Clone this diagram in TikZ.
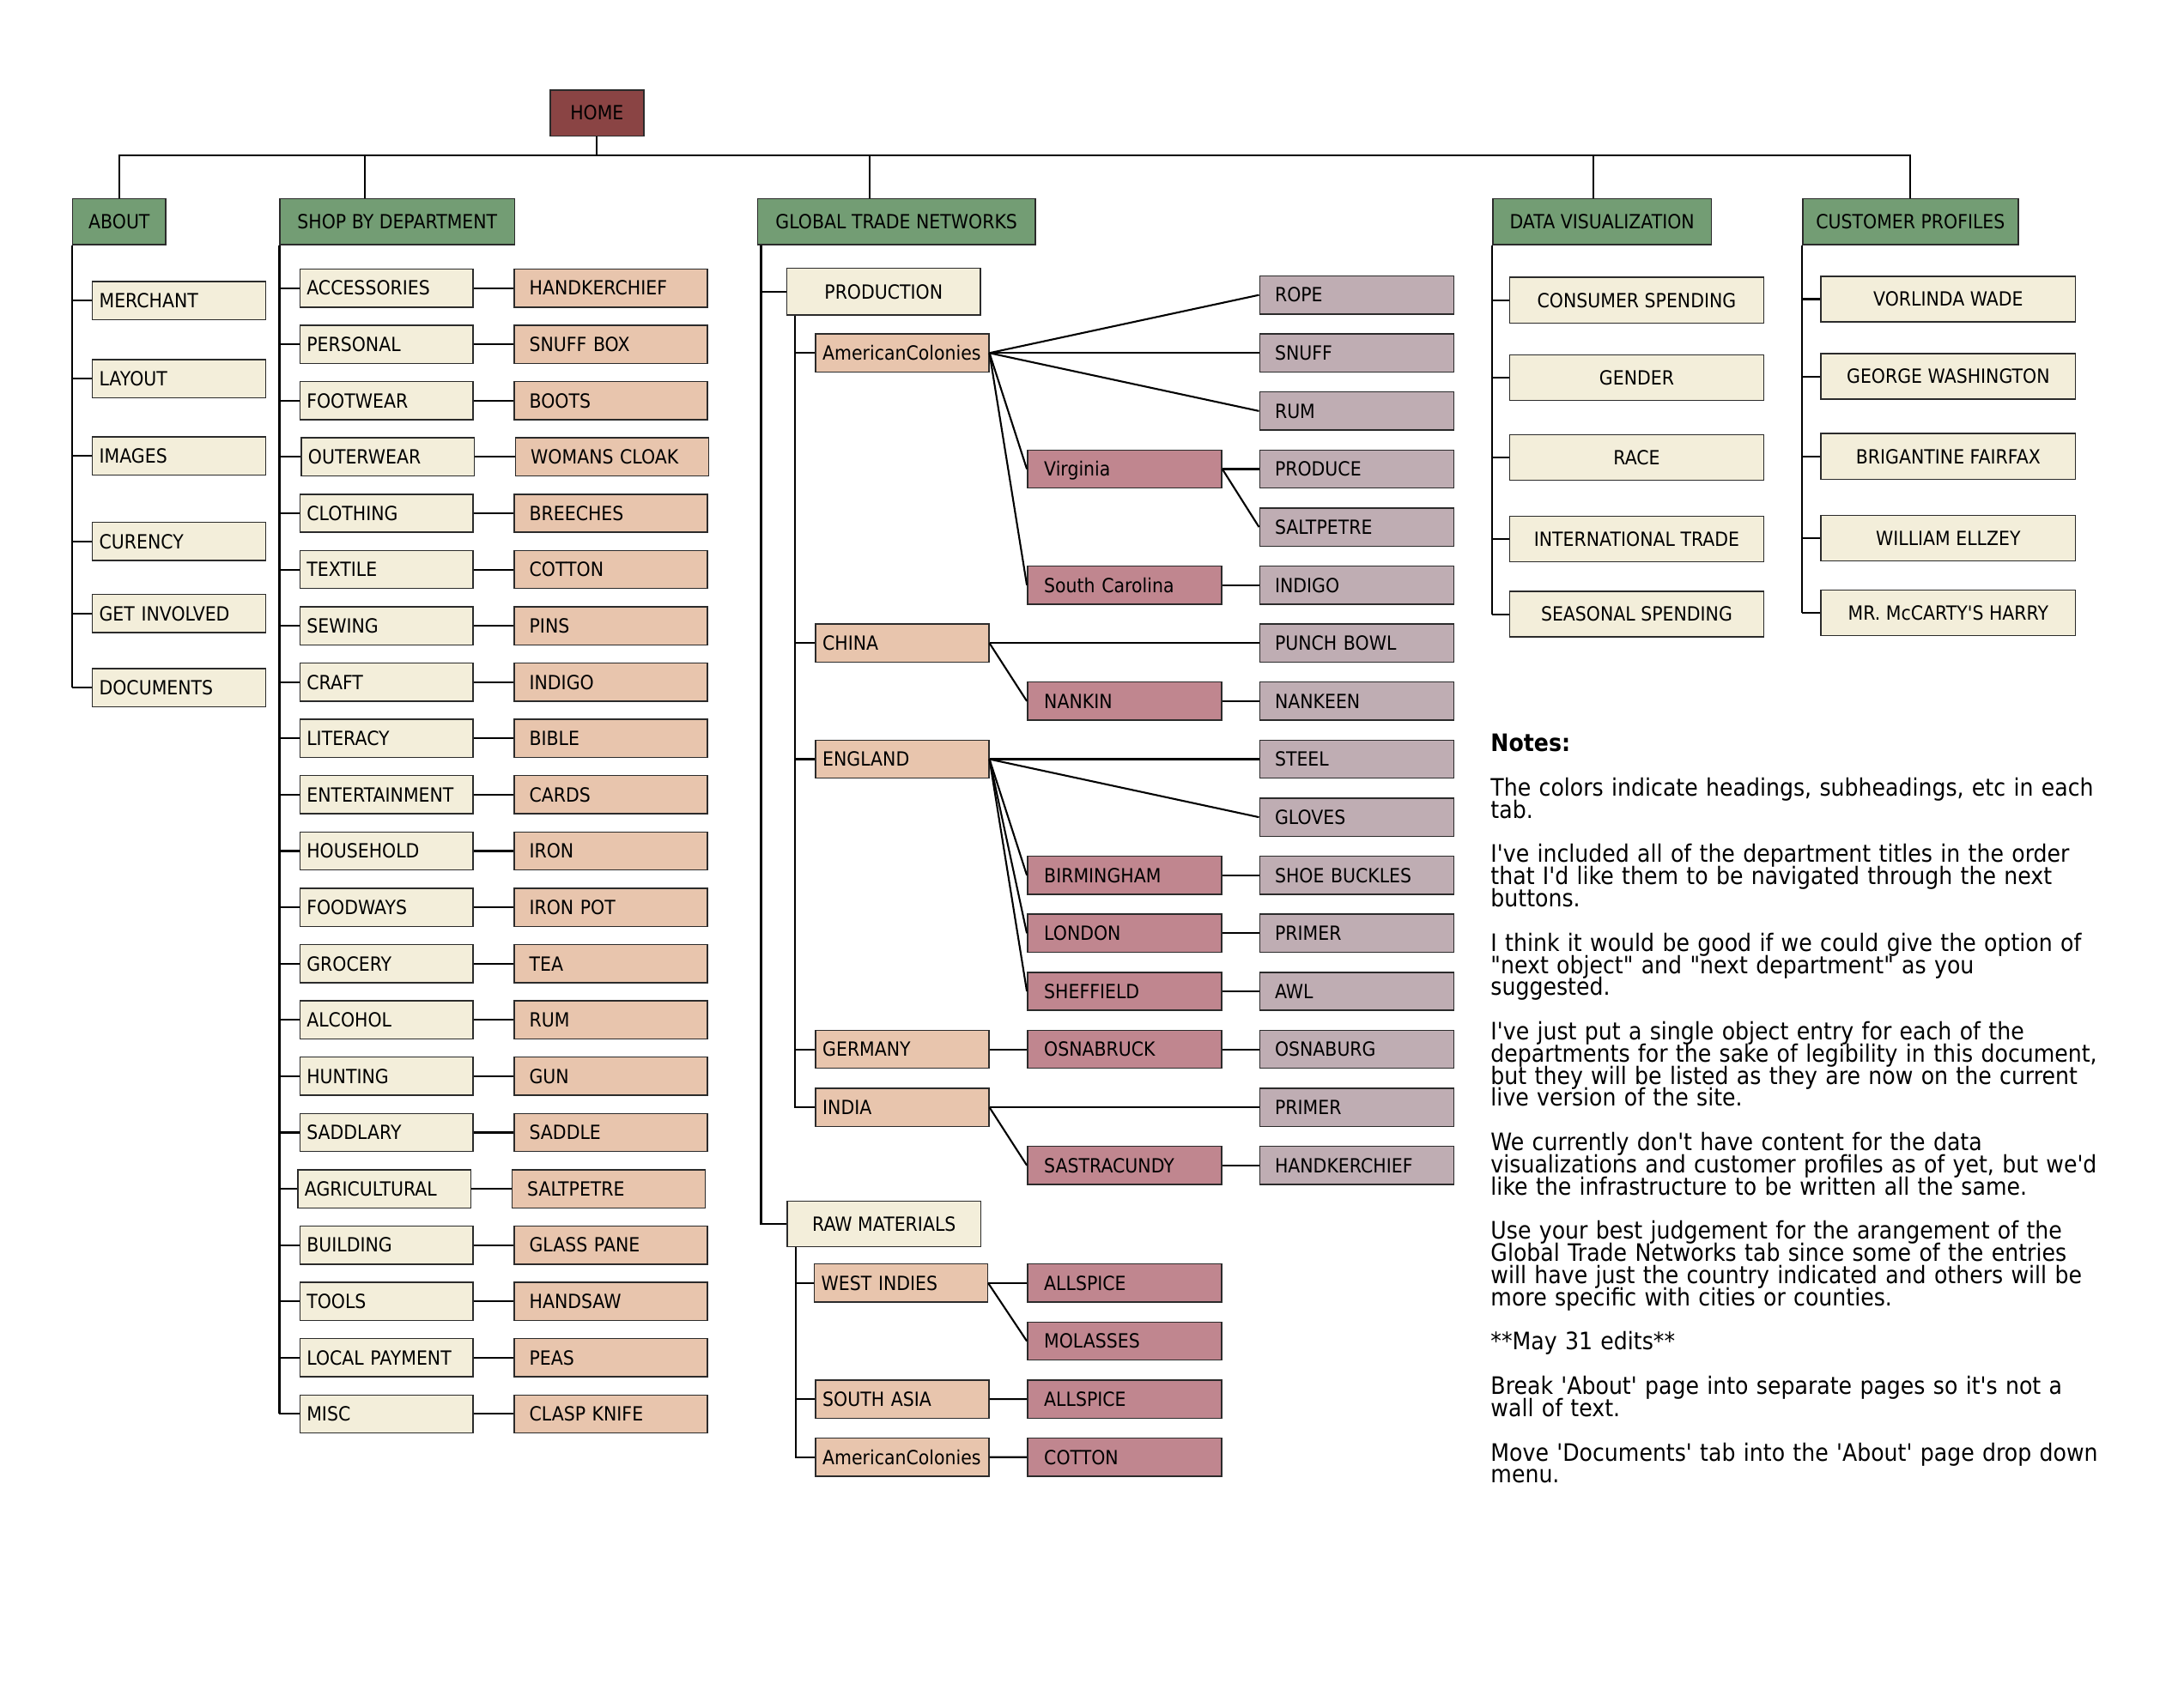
\documentclass[tikz,border=0pt]{standalone}
\usepackage{fontspec}
\newfontfamily\bxfont[FakeStretch=0.9]{DejaVu Sans}
\newfontfamily\ntfont[FakeStretch=0.9]{DejaVu Sans}
\definecolor{homec}{HTML}{8A4444}
\definecolor{greenc}{HTML}{739D74}
\definecolor{creamc}{HTML}{F3EEDA}
\definecolor{peachc}{HTML}{E8C5AD}
\definecolor{pinkc}{HTML}{C0868F}
\definecolor{mauvec}{HTML}{BFADB3}
\definecolor{bordc}{HTML}{2B2B2B}
\newcommand\boxf{\bxfont\fontsize{14.1}{16}\selectfont\hyphenpenalty=10000 }
\newcommand\notef{\ntfont\fontsize{17.35}{16}\selectfont\lineskiplimit=-50pt \hyphenpenalty=10000 }
\begin{document}
\begin{tikzpicture}[x=1pt,y=-1pt,
 conn/.style={line width=1.3pt, black},
 bxbase/.style={draw=bordc, line width=0.9pt, anchor=west, inner ysep=0pt, text height=10.3pt, text depth=0pt, font=\boxf},
 lbox/.style={bxbase, align=left, minimum height=27.5pt},
 creamL/.style={lbox, fill=creamc, inner xsep=5pt, text width=115pt},
 peachL/.style={lbox, fill=peachc, inner xsep=5pt, text width=115pt},
 peachS/.style={lbox, fill=peachc, inner xsep=11pt, text width=117.5pt},
 pinkb/.style={lbox, fill=pinkc, inner xsep=12pt, text width=116.2pt},
 mauveb/.style={lbox, fill=mauvec, inner xsep=11pt, text width=118.2pt},
 headb/.style={bxbase, fill=greenc, minimum height=33pt, inner xsep=0pt},
 centb/.style={bxbase, fill=creamc, minimum height=33pt, inner xsep=0pt},
 notes/.style={anchor=north west, inner sep=0pt, text width=470pt, align=left, font=\notef}
]
\useasboundingbox[fill=white] (0,0) rectangle (1568,1233);

% top level
\node[headb, fill=homec, minimum width=67.6pt] (home) at (396.7,81.6) {HOME};
\node[headb, minimum width=67.2pt] (about) at (52,160.1) {ABOUT};
\node[headb, minimum width=169.4pt] (shop) at (201.7,160.1) {SHOP BY DEPARTMENT};
\node[headb, minimum width=200.6pt] (gtn) at (546.4,160.1) {GLOBAL TRADE NETWORKS};
\node[headb, minimum width=157.8pt] (dv) at (1077.2,160.1) {DATA VISUALIZATION};
\node[headb, minimum width=155.5pt] (cp) at (1301,160.1) {CUSTOMER PROFILES};

\coordinate (busy) at (0,112.2);
\coordinate (ds) at (263.6,112.2);
\coordinate (dg) at (628,112.2);
\coordinate (dd) at (1150.4,112.2);
\draw[conn] (home.south) -- (home.south |- busy);
\draw[conn] (about.north) |- (cp.north |- busy) -- (cp.north);
\draw[conn] (ds) -- (ds |- shop.north);
\draw[conn] (dg) -- (dg |- gtn.north);
\draw[conn] (dd) -- (dd |- dv.north);

% ABOUT
\foreach \t/\yy [count=\i] in {MERCHANT/217, LAYOUT/273.5, IMAGES/329.3, CURENCY/391, GET INVOLVED/443, DOCUMENTS/496.5}{
  \node[creamL] (a\i) at (66.2,\yy) {\t};
  \draw[conn] (about.south west |- a\i.west) -- (a\i.west);
}
\draw[conn] (about.south west) -- (about.south west |- a6.west);

% SHOP BY DEPARTMENT
\foreach \a/\b/\d [count=\i from 0] in {ACCESSORIES/HANDKERCHIEF/0,PERSONAL/SNUFF BOX/0,FOOTWEAR/BOOTS/0,OUTERWEAR/WOMANS CLOAK/1,CLOTHING/BREECHES/0,TEXTILE/COTTON/0,SEWING/PINS/0,CRAFT/INDIGO/0,LITERACY/BIBLE/0,ENTERTAINMENT/CARDS/0,HOUSEHOLD/IRON/0,FOODWAYS/IRON POT/0,GROCERY/TEA/0,ALCOHOL/RUM/0,HUNTING/GUN/0,SADDLARY/SADDLE/0,AGRICULTURAL/SALTPETRE/-1.5,BUILDING/GLASS PANE/0,TOOLS/HANDSAW/0,LOCAL PAYMENT/PEAS/0,MISC/CLASP KNIFE/0}{
  \node[creamL] (s\i) at (216+\d, 208+40.65*\i) {\a};
  \node[peachS] (p\i) at (370.7+\d, 208+40.65*\i) {\b};
  \draw[conn] (s\i.east) -- (p\i.west);
  \draw[conn] (shop.south west |- s\i.west) -- (s\i.west);
}
\draw[conn] (shop.south west) -- (shop.south west |- s20.west);

% GLOBAL TRADE NETWORKS
\node[centb, minimum width=139.5pt, minimum height=33.7pt] (prod) at (567.7,210.6) {PRODUCTION};
\node[centb, minimum width=139.5pt] (raw) at (568,883.7) {RAW MATERIALS};
\coordinate (gv) at ([xshift=3pt]gtn.south west);
\draw[conn] (gv) |- (raw.west);
\draw[conn] (gv |- prod.west) -- (prod.west);

\foreach \t [count=\j from 0] in {ROPE,SNUFF,RUM,PRODUCE,SALTPETRE,INDIGO,PUNCH BOWL,NANKEEN,STEEL,GLOVES,SHOE BUCKLES,PRIMER,AWL,OSNABURG,PRIMER,HANDKERCHIEF}
  \node[mauveb] (m\j) at (908.9, 213+41.9*\j) {\t};
\foreach \t/\j in {Virginia/3,South Carolina/5,NANKIN/7,BIRMINGHAM/10,LONDON/11,SHEFFIELD/12,OSNABRUCK/13,SASTRACUNDY/15}
  \node[pinkb] (k\j) at (741.3, 213+41.9*\j) {\t};
\foreach \t/\j in {AmericanColonies/1,CHINA/6,ENGLAND/8,GERMANY/13,INDIA/14}
  \node[peachL] (g\j) at (588.4, 213+41.9*\j) {\t};

\coordinate (pv) at ([xshift=6.4pt]prod.south west);
\draw[conn] (pv) |- (g14.west);
\foreach \j in {1,6,8,13}
  \draw[conn] (pv |- g\j.west) -- (g\j.west);
\foreach \a/\b in {g1/m0,g1/m1,g1/m2,g1/k3,g1/k5,k3/m3,k3/m4,k5/m5,g6/m6,g6/k7,k7/m7,g8/m8,g8/m9,g8/k10,g8/k11,g8/k12,k10/m10,k11/m11,k12/m12,g13/k13,k13/m13,g14/m14,g14/k15,k15/m15}
  \draw[conn] (\a.east) -- (\b.west);

% RAW MATERIALS
\node[peachL] (w0) at (587.5, 926.5) {WEST INDIES};
\node[peachL] (w2) at (588.4, 1010.3) {SOUTH ASIA};
\node[peachL] (w3) at (588.4, 1052.2) {AmericanColonies};
\foreach \t [count=\r from 0] in {ALLSPICE,MOLASSES,ALLSPICE,COTTON}
  \node[pinkb] (q\r) at (741.3, 926.5+41.9*\r) {\t};
\coordinate (rv) at ([xshift=6.4pt]raw.south west);
\draw[conn] (rv) |- (w3.west);
\foreach \j in {0,2}
  \draw[conn] (rv |- w\j.west) -- (w\j.west);
\foreach \a/\b in {w0/q0,w0/q1,w2/q2,w3/q3}
  \draw[conn] (\a.east) -- (\b.west);

% DATA VISUALIZATION
\foreach \t/\yy [count=\i] in {CONSUMER SPENDING/216.8,GENDER/272.7,RACE/330.4,INTERNATIONAL TRADE/389.2,SEASONAL SPENDING/443.5}{
  \node[centb, minimum width=183.4pt] (d\i) at (1089.4,\yy) {\t};
  \draw[conn] (dv.south west |- d\i.west) -- (d\i.west);
}
\draw[conn] (dv.south west) -- (dv.south west |- d5.west);

% CUSTOMER PROFILES
\foreach \t/\yy [count=\i] in {VORLINDA WADE/216,GEORGE WASHINGTON/271.8,BRIGANTINE FAIRFAX/329.6,WILLIAM ELLZEY/388.5,MR. McCARTY'S HARRY/442.6}{
  \node[centb, minimum width=183.8pt] (c\i) at (1314.1,\yy) {\t};
  \draw[conn] (cp.south west |- c\i.west) -- (c\i.west);
}
\draw[conn] (cp.south west) -- (cp.south west |- c5.west);

% Notes
\node[notes] (notetext) at (1076,530) {\textbf{Notes:}\\[16pt]
The colors indicate headings, subheadings, etc in each\\
tab.\\[16pt]
I've included all of the department titles in the order\\
that I'd like them to be navigated through the next\\
buttons.\\[16pt]
I think it would be good if we could give the option of\\
"next object" and "next department" as you\\
suggested.\\[16pt]
I've just put a single object entry for each of the\\
departments for the sake of legibility in this document,\\
but they will be listed as they are now on the current\\
live version of the site.\\[16pt]
We currently don't have content for the data\\
visualizations and customer profiles as of yet, but we'd\\
like the infrastructure to be written all the same.\\[16pt]
Use your best judgement for the arangement of the\\
Global Trade Networks tab since some of the entries\\
will have just the country indicated and others will be\\
more specific with cities or counties.\\[16pt]
**May 31 edits**\\[16pt]
Break 'About' page into separate pages so it's not a\\
wall of text.\\[16pt]
Move 'Documents' tab into the 'About' page drop down\\
menu.};
\end{tikzpicture}
\end{document}
